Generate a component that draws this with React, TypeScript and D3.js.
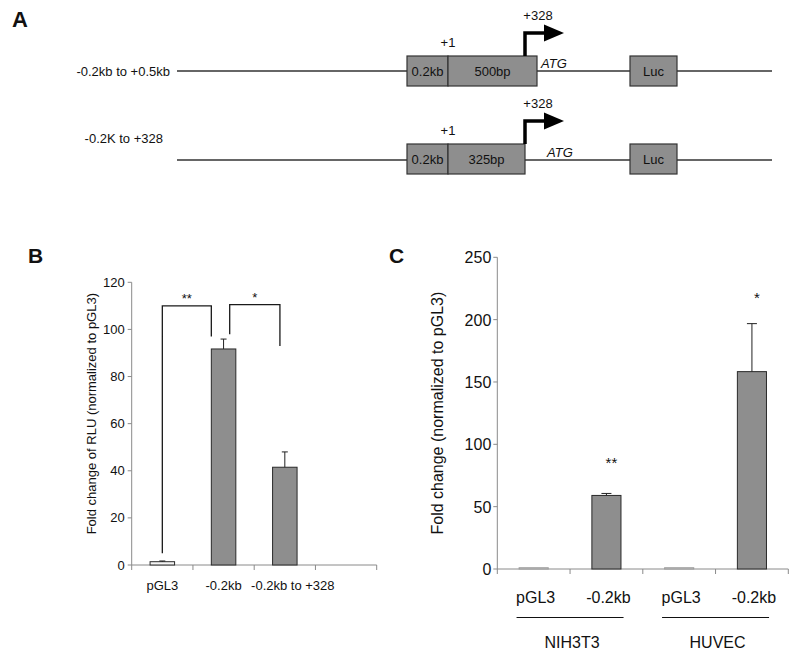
import React from "react";
import * as d3 from "d3";

// ---------- Panel A (schematic constructs) ----------
const aConstructs = ["-0.2kb to +0.5kb", "-0.2K to +328"];
const aPromoter = ["0.2kb", "0.2kb"];
const aInserts = ["500bp", "325bp"];
const aInsertLen = [500, 325];

// ---------- Panel B ----------
const bCategories = ["pGL3", "-0.2kb", "-0.2kb to +328", ""];
const bValues = [1.4, 91.7, 41.5];
const bErrors = [0.3, 4.2, 6.5];
const bTicks = [0, 20, 40, 60, 80, 100, 120];
const bBracketFrom = [0, 1];
const bBracketTo = [1, 2];
const bBracketTop = [110, 110.5];
const bBracketLeftEnd = [5, 98];
const bBracketRightEnd = [97, 93];
const bBracketLabels = ["**", "*"];

// ---------- Panel C ----------
const cCategories = ["pGL3", "-0.2kb", "pGL3", "-0.2kb"];
const cGroups = ["NIH3T3", "HUVEC"];
const cValues = [1, 59, 1, 158.3];
const cErrors = [0, 1.6, 0, 38.5];
const cSig = ["", "**", "", "*"];
const cSigY = [0, 86, 0, 218];
const cTicks = [0, 50, 100, 150, 200, 250];

const FONT = "'Liberation Sans', Arial, Helvetica, sans-serif";
const BAR_FILL = "#8e8e8e";
const BAR_STROKE = "#2a2a2a";
const AXIS = "#8a8a8a";

function PanelA() {
  // schematic bp scale for the insert (not proportional in the original, map by length)
  const rowY = [71, 160];
  const boxH = 30;
  const promoLeft = 407;
  const promoRight = 448;
  const insertScale = d3.scaleLinear().domain([325, 500]).range([77, 89]);
  return (
    <g fontFamily={FONT} fontSize={13} fill="#111">
      <text x={12} y={27} fontSize={22} fontWeight="bold">A</text>
      {aConstructs.map((label, i) => {
        const y = rowY[i];
        const top = y - (i === 0 ? 15 : 16);
        const insRight = promoRight + insertScale(aInsertLen[i]);
        const arrowX = Math.min(insRight, 525);
        const arrowTop = top - 23;
        const atgX = i === 0 ? 541 : 547;
        return (
          <g key={i}>
            <line x1={177} x2={772} y1={y} y2={y} stroke="#333" strokeWidth={1.4} />
            <text
              x={i === 0 ? 170 : 163}
              y={i === 0 ? y + 5 : y - 17}
              textAnchor="end"
            >
              {label}
            </text>
            <rect x={promoLeft} y={top} width={promoRight - promoLeft} height={boxH} fill={BAR_FILL} stroke="#333" strokeWidth={1.2} />
            <rect x={promoRight} y={top} width={insRight - promoRight} height={boxH} fill={BAR_FILL} stroke="#333" strokeWidth={1.2} />
            <text x={(promoLeft + promoRight) / 2} y={top + 20} textAnchor="middle">{aPromoter[i]}</text>
            <text x={(promoRight + insRight) / 2} y={top + 20} textAnchor="middle">{aInserts[i]}</text>
            <text x={promoRight} y={top - 9} textAnchor="middle">+1</text>
            <path
              d={`M${arrowX},${top} V${arrowTop} H${546}`}
              fill="none"
              stroke="#000"
              strokeWidth={3.5}
            />
            <path d={`M${544},${arrowTop - 8.5} L${544},${arrowTop + 8.5} L${564},${arrowTop} Z`} fill="#000" />
            <text x={538} y={arrowTop - 13} textAnchor="middle">+328</text>
            <text x={atgX} y={y - 3} fontStyle="italic">ATG</text>
            <rect x={630} y={top} width={47} height={boxH} fill={BAR_FILL} stroke="#333" strokeWidth={1.2} />
            <text x={653.5} y={top + 20} textAnchor="middle">Luc</text>
          </g>
        );
      })}
    </g>
  );
}

function PanelB() {
  const x0 = 131.7, x1 = 376.7;
  const x = d3.scaleBand<string>().domain(bCategories.map((c, i) => String(i))).range([x0, x1]).paddingInner(0.6).paddingOuter(0.3);
  const y = d3.scaleLinear().domain([0, 120]).range([565, 282.3]);
  const step = x.step();
  const bw = x.bandwidth();
  const bx = (i: number) => x(String(i)) as number;
  const leftFrac = [0.5, 0.75];
  const rightFrac = [0.0, 0.3];
  return (
    <g fontFamily={FONT} fill="#111">
      <text x={28} y={263} fontSize={21} fontWeight="bold">B</text>
      {/* y axis */}
      <line x1={x0} x2={x0} y1={y(0)} y2={y(120)} stroke={AXIS} strokeWidth={1} />
      {bTicks.map((t) => (
        <g key={t}>
          <line x1={x0 - 4} x2={x0} y1={y(t)} y2={y(t)} stroke={AXIS} />
          <text x={x0 - 7} y={y(t) + 4.5} textAnchor="end" fontSize={13}>{t}</text>
        </g>
      ))}
      {/* x axis */}
      <line x1={x0} x2={x1} y1={y(0)} y2={y(0)} stroke={AXIS} />
      {bCategories.map((c, i) => (
        <line key={i} x1={x0 + step * (i + 1)} x2={x0 + step * (i + 1)} y1={y(0)} y2={y(0) + 5} stroke={AXIS} />
      ))}
      <line x1={x0} x2={x0} y1={y(0)} y2={y(0) + 5} stroke={AXIS} />
      {bValues.map((v, i) => (
        <g key={i}>
          <rect x={bx(i)} y={y(v)} width={bw} height={y(0) - y(v)} fill={i === 0 ? "#f4f4f4" : BAR_FILL} stroke={BAR_STROKE} strokeWidth={1} />
          <line x1={bx(i) + bw / 2} x2={bx(i) + bw / 2} y1={y(v)} y2={y(v + bErrors[i])} stroke="#222" />
          <line x1={bx(i) + bw / 2 - 3} x2={bx(i) + bw / 2 + 3} y1={y(v + bErrors[i])} y2={y(v + bErrors[i])} stroke="#222" />
        </g>
      ))}
      {bCategories.slice(0, 3).map((c, i) => (
        <text key={i} x={bx(i) + bw / 2 + (i === 2 ? 8 : 0)} y={590} textAnchor="middle" fontSize={13}>{c}</text>
      ))}
      {bBracketFrom.map((f, k) => {
        const xl = bx(f) + bw * leftFrac[k];
        const xr = bx(bBracketTo[k]) + bw * rightFrac[k];
        return (
          <g key={k}>
            <path
              d={`M${xl},${y(bBracketLeftEnd[k])} V${y(bBracketTop[k])} H${xr} V${y(bBracketRightEnd[k])}`}
              fill="none"
              stroke="#1a1a1a"
              strokeWidth={1.3}
            />
            <text x={(xl + xr) / 2} y={y(bBracketTop[k]) - 3} textAnchor="middle" fontSize={13}>{bBracketLabels[k]}</text>
          </g>
        );
      })}
      <text
        transform={`translate(96,${(y(0) + y(120)) / 2 - 10}) rotate(-90)`}
        textAnchor="middle"
        fontSize={13}
      >
        Fold change of RLU (normalized to pGL3)
      </text>
    </g>
  );
}

function PanelC() {
  const x0 = 497.3, x1 = 788.3;
  const x = d3.scaleBand<string>().domain(cCategories.map((c, i) => String(i))).range([x0, x1]).paddingInner(0.6).paddingOuter(0.3);
  const y = d3.scaleLinear().domain([0, 250]).range([569, 257.3]);
  const step = x.step();
  const bw = x.bandwidth();
  const bx = (i: number) => x(String(i)) as number;
  return (
    <g fontFamily={FONT} fill="#111">
      <text x={389} y={263} fontSize={21} fontWeight="bold">C</text>
      <line x1={x0} x2={x0} y1={y(0)} y2={y(250)} stroke={AXIS} />
      {cTicks.map((t) => (
        <g key={t}>
          <line x1={x0 - 4} x2={x0} y1={y(t)} y2={y(t)} stroke={AXIS} />
          <text x={x0 - 6} y={y(t) + 6} textAnchor="end" fontSize={16}>{t}</text>
        </g>
      ))}
      <line x1={x0} x2={x1} y1={y(0)} y2={y(0)} stroke={AXIS} />
      {cCategories.map((c, i) => (
        <line key={i} x1={x0 + step * (i + 1)} x2={x0 + step * (i + 1)} y1={y(0)} y2={y(0) + 5} stroke={AXIS} />
      ))}
      <line x1={x0} x2={x0} y1={y(0)} y2={y(0) + 5} stroke={AXIS} />
      {cValues.map((v, i) => (
        <g key={i}>
          <rect x={bx(i)} y={y(v)} width={bw} height={y(0) - y(v)} fill={v < 5 ? "#d8d8d8" : BAR_FILL} stroke={v < 5 ? "#9a9a9a" : BAR_STROKE} strokeWidth={1} />
          {cErrors[i] > 0 && (
            <g>
              <line x1={bx(i) + bw / 2} x2={bx(i) + bw / 2} y1={y(v)} y2={y(v + cErrors[i])} stroke="#222" />
              <line x1={bx(i) + bw / 2 - 5} x2={bx(i) + bw / 2 + 5} y1={y(v + cErrors[i])} y2={y(v + cErrors[i])} stroke="#222" />
            </g>
          )}
          {cSig[i] && (
            <text x={bx(i) + bw / 2 + 5} y={y(cSigY[i]) + 6} textAnchor="middle" fontSize={15}>{cSig[i]}</text>
          )}
          <text x={bx(i) + bw / 2 + 2} y={603} textAnchor="middle" fontSize={16}>{cCategories[i]}</text>
        </g>
      ))}
      {cGroups.map((g, k) => {
        const cx = (bx(2 * k) + bx(2 * k + 1) + bw) / 2;
        return (
          <g key={g}>
            <line x1={cx - 53.5} x2={cx + 53.5} y1={617.5} y2={617.5} stroke="#111" strokeWidth={1.2} />
            <text x={cx + 2} y={648} textAnchor="middle" fontSize={16}>{g}</text>
          </g>
        );
      })}
      <text
        transform={`translate(443,${(y(0) + y(250)) / 2}) rotate(-90)`}
        textAnchor="middle"
        fontSize={16}
      >
        Fold change (normalized to pGL3)
      </text>
    </g>
  );
}

export default function App() {
  return (
    <svg
      width={800}
      height={659}
      viewBox="0 0 800 659"
      style={{ position: "absolute", left: 0, top: 0, background: "#fff" }}
    >
      <rect width={800} height={659} fill="#fff" />
      <PanelA />
      <PanelB />
      <PanelC />
    </svg>
  );
}
